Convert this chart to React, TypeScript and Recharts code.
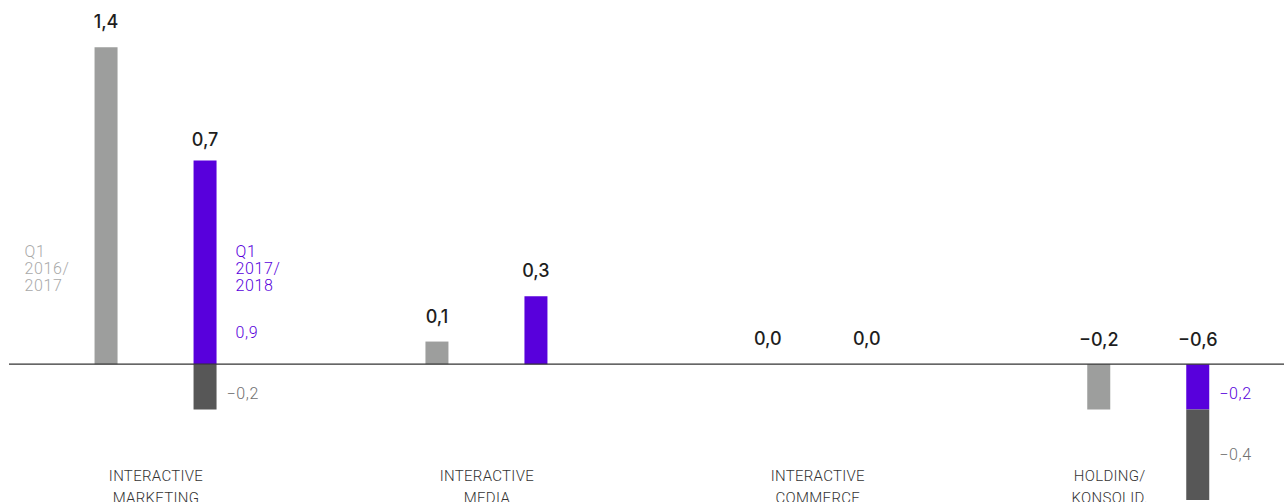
import React from 'react';
import { BarChart, Bar, XAxis, YAxis, ReferenceLine, LabelList, Rectangle } from 'recharts';

// ---- data ----
const categories: string[][] = [
  ['INTERACTIVE', 'MARKETING'],
  ['INTERACTIVE', 'MEDIA'],
  ['INTERACTIVE', 'COMMERCE'],
  ['HOLDING/', 'KONSOLID.'],
];
const prevYear = [1.4, 0.1, 0.0, -0.2];          // Q1 2016/2017
const currMain = [0.9, 0.3, 0.0, -0.2];          // Q1 2017/2018 (purple segment)
const currOther = [-0.2, 0.0, 0.0, -0.4];        // Q1 2017/2018 (dark segment)
const currTotal = [0.7, 0.3, 0.0, -0.6];         // Q1 2017/2018 total
const mainSegmentLabels = [0.9, null, null, -0.2];
const otherSegmentLabels = [-0.2, null, null, -0.4];
const prevLegend = ['Q1', '2016/', '2017'];
const currLegend = ['Q1', '2017/', '2018'];

const data = categories.map((_, i) => ({
  idx: i,
  prev: prevYear[i],
  cur: currMain[i],
  other: currOther[i],
}));

// ---- styles ----
const GRAY = '#9d9e9d';
const PURPLE = '#5800dc';
const DARK = '#575757';
const BIG_FONT = 'Inter, "Noto Sans", sans-serif';
const SMALL_FONT = 'Roboto, "Noto Sans", sans-serif';

const fmt = (v: number) => (v < 0 ? '\u2212' : '') + Math.abs(v).toFixed(1).replace('.', ',');

const box = (p: any) => {
  const vb = p.viewBox || {};
  const x = p.x ?? vb.x;
  const y = p.y ?? vb.y;
  const width = p.width ?? vb.width;
  const height = p.height ?? vb.height;
  return { x: Number(x), y: Number(y), width: Number(width), height: Number(height) };
};

const idxOf = (p: any) => {
  const pl = p.payload || (p.entry && p.entry.payload);
  if (pl && typeof pl.idx === 'number') return pl.idx;
  return p.index;
};

// zero-valued bars are kept (minPointSize) but drawn invisibly
const makeShape = (key: string) => (p: any) => {
  const v = p.payload ? p.payload[key] : p.value;
  if (!v) return <g />;
  return <Rectangle {...p} />;
};

const makeTotalLabel = (totals: number[], segment: number[] | null) => (p: any) => {
  const i = idxOf(p);
  const { x, y, width, height } = box(p);
  if (isNaN(x) || isNaN(y)) return null;
  const v = totals[i];
  let top = Math.min(y, y + (height || 0));
  let gap = 19;
  if (v === 0) top = Math.max(y, y + (height || 0));
  if (v < 0) gap = 18;
  if (segment && v > 0 && segment[i] !== v) gap = 14.5;
  return (
    <text
      x={x + width / 2}
      y={top - gap}
      textAnchor="middle"
      fontFamily={BIG_FONT}
      fontSize={18}
      fontWeight={500}
      fill="#1e1e1e"
    >
      {fmt(v)}
    </text>
  );
};

const makeLegendLabel = (lines: string[], color: string, side: 'left' | 'right') => (p: any) => {
  if (idxOf(p) !== 0) return null;
  const { x, y, width, height } = box(p);
  const zero = Math.max(y, y + height);
  const tx = side === 'left' ? x - 70 : x + width + 19;
  return (
    <g>
      {lines.map((l, i) => (
        <text
          key={i}
          x={tx}
          y={zero - 107.5 + i * 17}
          fontFamily={SMALL_FONT}
          fontSize={16}
          fontWeight={300}
          letterSpacing={0.6}
          fill={color}
        >
          {l}
        </text>
      ))}
    </g>
  );
};

const makeSegmentLabel = (values: (number | null)[], color: string) => (p: any) => {
  const v = values[idxOf(p)];
  if (v === null || v === undefined) return null;
  const { x, y, width, height } = box(p);
  const top = Math.min(y, y + height);
  const h = Math.abs(height);
  const bottom = top + h;
  let cy: number;
  if (v > 0) cy = bottom - 32;
  else cy = top + Math.max(29, h / 2);
  return (
    <text
      x={x + width + (v < 0 ? 10 : 19)}
      y={cy}
      dy="0.35em"
      fontFamily={SMALL_FONT}
      fontSize={16}
      fontWeight={300}
      letterSpacing={0.6}
      fill={color}
    >
      {fmt(v)}
    </text>
  );
};

const CategoryTick = (props: any) => {
  const { x, payload, index } = props;
  const i = payload && typeof payload.value === 'number' ? payload.value : index;
  const lines = categories[i] || [];
  const dx = i === 3 ? -39 : 0;
  return (
    <g>
      {lines.map((l, k) => (
        <text
          key={k}
          x={x + dx}
          y={481 + k * 21.5}
          textAnchor="middle"
          fontFamily={SMALL_FONT}
          fontSize={15}
          fontWeight={300}
          letterSpacing={0.3}
          fill="#333"
        >
          {l}
        </text>
      ))}
    </g>
  );
};

export default function App() {
  return (
    <div style={{ position: 'absolute', left: 0, top: 0, width: 1284, height: 502, background: '#fff' }}>
      <BarChart
        width={1284}
        height={502}
        data={data}
        margin={{ top: 2, right: 0, bottom: 1, left: 9 }}
        stackOffset="sign"
        barSize={23}
        barGap={76}
      >
        <XAxis
          type="number"
          dataKey="idx"
          domain={[(9 - 156) / 330.9, (1284 - 156) / 330.9]}
          ticks={[0, 1, 2, 3]}
          interval={0}
          allowDataOverflow
          height={1}
          axisLine={false}
          tickLine={false}
          tick={<CategoryTick />}
        />
        <YAxis hide domain={[-0.6, 1.6]} allowDataOverflow />
        <Bar dataKey="prev" stackId="g" fill={GRAY} minPointSize={1} shape={makeShape('prev')} isAnimationActive={false}>
          <LabelList dataKey="prev" content={makeTotalLabel(prevYear, null)} />
          <LabelList dataKey="prev" content={makeLegendLabel(prevLegend, '#a9a9a9', 'left')} />
        </Bar>
        <Bar dataKey="cur" stackId="c" fill={PURPLE} minPointSize={1} shape={makeShape('cur')} isAnimationActive={false}>
          <LabelList dataKey="cur" content={makeTotalLabel(currTotal, currMain)} />
          <LabelList dataKey="cur" content={makeLegendLabel(currLegend, PURPLE, 'right')} />
          <LabelList dataKey="cur" content={makeSegmentLabel(mainSegmentLabels, PURPLE)} />
        </Bar>
        <Bar dataKey="other" stackId="c" fill={DARK} shape={makeShape('other')} isAnimationActive={false}>
          <LabelList dataKey="other" content={makeSegmentLabel(otherSegmentLabels, '#707070')} />
        </Bar>
        <ReferenceLine y={0} stroke="#333" strokeWidth={1.2} />
      </BarChart>
    </div>
  );
}
